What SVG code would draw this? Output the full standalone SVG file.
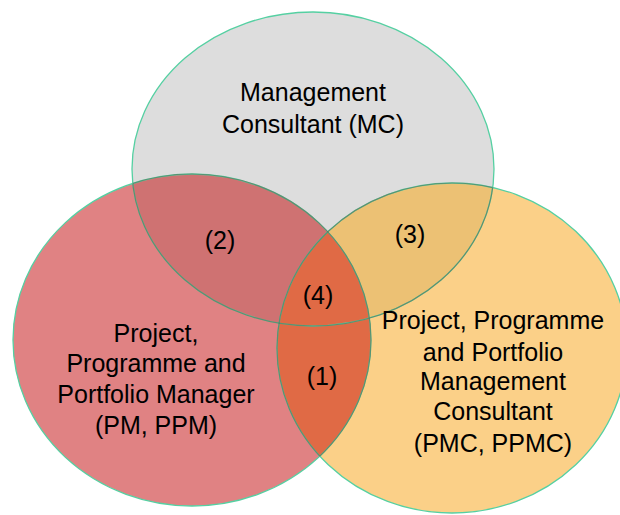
<svg xmlns="http://www.w3.org/2000/svg" width="620" height="515" viewBox="0 0 620 515">
<style>
.t{font-family:"Liberation Sans",Arial,sans-serif;font-size:25px;fill:#000;text-anchor:middle}
.outer{fill:none;stroke:#55d0a2;stroke-width:1.3}
.inner{fill:none;stroke:#5a4a3a;stroke-opacity:0.45;stroke-width:1.2}
</style>
<defs>
<ellipse id="eG" cx="313" cy="169" rx="181" ry="157"/>
<ellipse id="eR" cx="192" cy="340" rx="179" ry="166"/>
<ellipse id="eO" cx="452" cy="348" rx="175" ry="165"/>
<clipPath id="cG"><use href="#eG"/></clipPath>
<clipPath id="cR"><use href="#eR"/></clipPath>
<clipPath id="cO"><use href="#eO"/></clipPath>
<clipPath id="cRO"><use href="#eR"/><use href="#eO"/></clipPath>
<clipPath id="cGO"><use href="#eG"/><use href="#eO"/></clipPath>
<clipPath id="cGR"><use href="#eG"/><use href="#eR"/></clipPath>
</defs>
<rect width="620" height="515" fill="#ffffff"/>
<g id="mc">
<use href="#eG" fill="#dddddd"/>
</g>
<g id="pm">
<use href="#eR" fill="#e08283"/>
</g>
<g id="pmc">
<use href="#eO" fill="#fbd088"/>
</g>
<g id="overlaps">
<use href="#eG" fill="#cf7272" clip-path="url(#cR)"/>
<use href="#eG" fill="#ecc174" clip-path="url(#cO)"/>
<use href="#eR" fill="#e06a45" clip-path="url(#cO)"/>
</g>
<g id="outlines">
<use href="#eG" class="outer"/>
<use href="#eR" class="outer"/>
<use href="#eO" class="outer"/>
<g clip-path="url(#cRO)"><use href="#eG" class="inner"/></g>
<g clip-path="url(#cGO)"><use href="#eR" class="inner"/></g>
<g clip-path="url(#cGR)"><use href="#eO" class="inner"/></g>
</g>
<g id="labels">
<text class="t" x="313" y="101">Management</text>
<text class="t" x="313" y="133">Consultant (MC)</text>
<text class="t" x="220" y="249">(2)</text>
<text class="t" x="410" y="243">(3)</text>
<text class="t" x="318" y="304">(4)</text>
<text class="t" x="322" y="385">(1)</text>
<text class="t" x="156" y="342">Project,</text>
<text class="t" x="156" y="372">Programme and</text>
<text class="t" x="156" y="403">Portfolio Manager</text>
<text class="t" x="156" y="434">(PM, PPM)</text>
<text class="t" x="493" y="329">Project, Programme</text>
<text class="t" x="493" y="361">and Portfolio</text>
<text class="t" x="493" y="390">Management</text>
<text class="t" x="493" y="420">Consultant</text>
<text class="t" x="493" y="452">(PMC, PPMC)</text>
</g>
</svg>
